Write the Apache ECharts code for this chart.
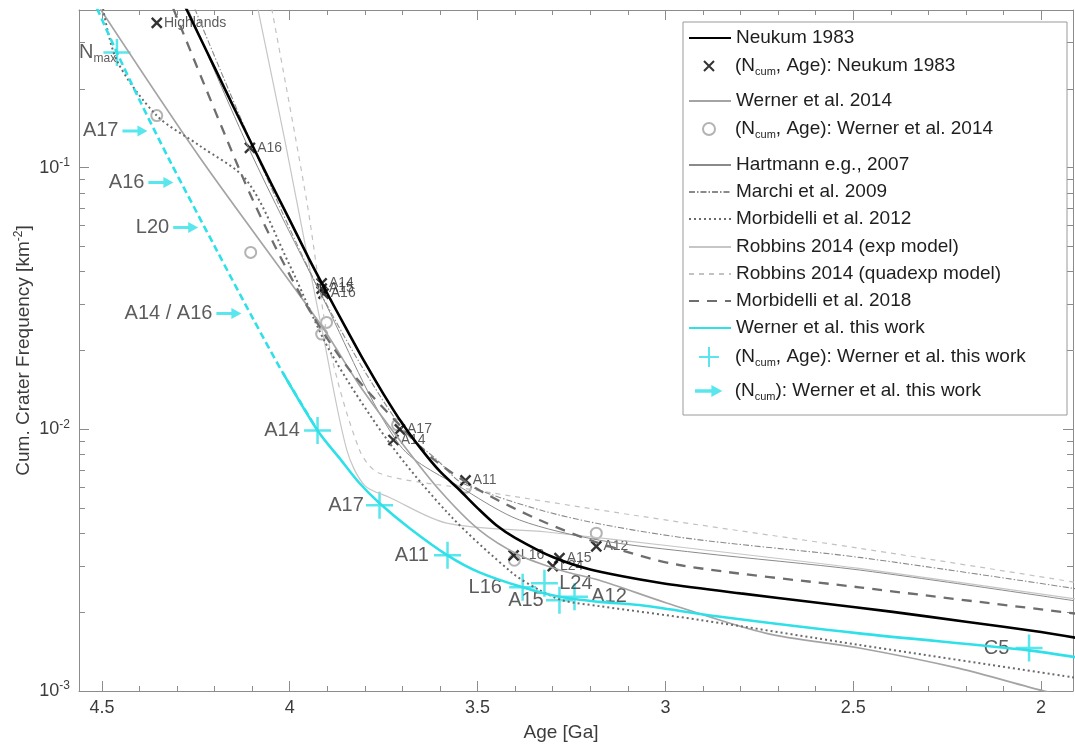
<!DOCTYPE html>
<html>
<head>
<meta charset="utf-8">
<title>Lunar cratering chronologies</title>
<script src="https://cdn.jsdelivr.net/npm/echarts@6/dist/echarts.min.js"></script>
<style>
  html, body { margin: 0; padding: 0; background: #fff; }
  #chart { width: 1075px; height: 747px; }
</style>
</head>
<body>
<div id="chart"></div>
<script>
// values: [age in Ga, cumulative crater frequency N(1) in km^-2]
const neukum1983 = [[4.30,0.479],[4.25,0.339],[4.20,0.241],[4.15,0.171],[4.10,0.122],[4.05,0.0872],[4.00,0.0630],[3.95,0.0452],[3.90,0.0330],[3.85,0.0243],[3.80,0.0180],[3.75,0.0136],[3.70,0.0105],[3.65,0.0084],[3.60,0.0069],[3.55,0.0059],[3.50,0.0050],[3.45,0.0043],[3.40,0.00385],[3.30,0.00325],[3.20,0.00291],[3.10,0.00272],[3.00,0.00257],[2.80,0.00236],[2.60,0.00218],[2.40,0.00201],[2.20,0.00184],[2.00,0.00168],[1.90,0.00159]];
const werner2014 = [[4.505,0.405],[4.239,0.109],[3.920,0.0254],[3.814,0.0147],[3.707,0.00908],[3.601,0.00585],[3.495,0.00412],[3.388,0.0033],[3.282,0.0029],[3.176,0.00265],[2.997,0.00217],[2.731,0.00166],[2.484,0.00146],[2.218,0.00122],[1.992,0.00100],[1.900,0.00094]];
const hartmann2007 = [[4.271,0.405],[4.106,0.116],[3.915,0.0324],[3.707,0.00869],[3.532,0.00585],[3.388,0.0045],[3.176,0.00377],[2.910,0.00337],[2.484,0.0029],[1.900,0.0022]];
const marchi2009 = [[4.253,0.405],[4.093,0.116],[3.907,0.031],[3.707,0.01035],[3.601,0.00748],[3.540,0.00622],[3.282,0.0047],[2.963,0.00387],[2.484,0.00324],[1.900,0.00245]];
const morbidelli2012 = [[4.497,0.405],[4.460,0.256],[4.354,0.158],[4.239,0.121],[4.114,0.0891],[4.000,0.0423],[3.894,0.0200],[3.734,0.00885],[3.574,0.0047],[3.407,0.00282],[3.335,0.00243],[3.274,0.00222],[3.176,0.00211],[2.910,0.00187],[2.484,0.0015],[1.900,0.00112]];
const robbinsExp = [[4.085,0.405],[4.013,0.127],[3.939,0.0361],[3.912,0.0232],[3.848,0.00832],[3.801,0.00611],[3.734,0.00549],[3.582,0.00438],[3.316,0.00405],[2.963,0.00355],[2.484,0.00294],[1.900,0.00224]];
const robbinsQuadexp = [[4.048,0.405],[3.955,0.0748],[3.894,0.0206],[3.814,0.00832],[3.761,0.00679],[3.540,0.00596],[3.069,0.00466],[2.484,0.00351],[1.900,0.00259]];
const morbidelli2018 = [[4.310,0.405],[4.125,0.0917],[4.040,0.0503],[3.947,0.0284],[3.840,0.0168],[3.707,0.01035],[3.620,0.00774],[3.495,0.00585],[3.335,0.0045],[3.176,0.00367],[2.963,0.00303],[2.484,0.00249],[1.900,0.00197]];
// this work: dashed (extrapolated) part and solid part
const thisWorkDashed = [[4.513,0.405],[4.460,0.275],[4.399,0.180],[4.319,0.106],[4.194,0.0482],[4.098,0.0265],[4.019,0.0165],[3.926,0.0099]];
const thisWorkSolid = [[4.019,0.0165],[3.926,0.0099],[3.867,0.00774],[3.814,0.00622],[3.761,0.00522],[3.681,0.00419],[3.580,0.0033],[3.495,0.00284],[3.380,0.00249],[3.282,0.00229],[3.176,0.00219],[3.069,0.00213],[2.864,0.00193],[2.484,0.00166],[2.032,0.00143],[1.900,0.00134]];

// calibration points
const neukumPointNames = ['Highlands','A16','A14','A15','A16','A17','A14','A11','L16','A15','L24','A12'];
const neukumPoints = [[4.354,0.357],[4.106,0.119],[3.915,0.0361],[3.915,0.0345],[3.910,0.0330],[3.707,0.0100],[3.724,0.0091],[3.532,0.00638],[3.404,0.0033],[3.282,0.00322],[3.300,0.0030],[3.184,0.00357]];
const werner2014Points = [[4.354,0.158],[4.104,0.0474],[3.902,0.0256],[3.915,0.0231],[3.713,0.0104],[3.532,0.0060],[3.402,0.00316],[3.184,0.00401]];
const thisWorkNames = ['N_max','A14','A17','A11','L16','L24','A15','A12','C5'];
const thisWorkPoints = [[4.460,0.275],[3.926,0.0099],[3.761,0.00513],[3.580,0.0033],[3.380,0.00249],[3.322,0.00258],[3.282,0.00222],[3.242,0.00229],[2.032,0.00146]];
const arrowNames = ['A17','A16','L20','A14 / A16'];
const arrowPoints = [[4.412,0.138],[4.343,0.0877],[4.277,0.059],[4.162,0.0277]];

// axes
const ageMin = 1.915, ageMax = 4.561;
const freqMin = 0.001, freqMax = 0.4;
const ageMajorTicks = [4.5, 4, 3.5, 3, 2.5, 2];
const ageMinorTicks = [4.4,4.3,4.2,4.1,3.9,3.8,3.7,3.6,3.4,3.3,3.2,3.1,2.9,2.8,2.7,2.6,2.4,2.3,2.2,2.1];
const freqMajorTicks = [0.001, 0.01, 0.1];
const freqMinorTicks = [0.002,0.003,0.004,0.005,0.006,0.007,0.008,0.009,0.02,0.03,0.04,0.05,0.06,0.07,0.08,0.09,0.2,0.3];

// label placement for the calibration labels of this work
const thisWorkLabelPos = {
  N_max: ['left', -14], A14: ['left', 3], A17: ['left', 1], A11: ['left', 4], L16: ['left', 6],
  L24: ['right', 0], A15: ['left', 1], A12: ['right', 2], C5: ['left', 5]
};

const FONT = 'Liberation Sans, Arial, sans-serif';
const axisGrey = '#8c8c8c';
const textGrey = '#3c3c3c';
const cyan = '#2fe0e8';

function ageAxis(position, ticks, len, main) {
  return {
    type: 'value', position: position, inverse: true, min: ageMin, max: ageMax,
    splitLine: { show: false },
    axisLine: { show: main, onZero: false, lineStyle: { color: axisGrey, width: 1 } },
    axisTick: { show: true, inside: true, length: len, customValues: ticks, lineStyle: { color: axisGrey } },
    axisLabel: {
      show: main && position === 'bottom', customValues: ticks, margin: 8,
      fontFamily: FONT, fontSize: 18, color: textGrey,
      formatter: v => String(v)
    }
  };
}

function freqAxis(position, ticks, len, main) {
  return {
    type: 'log', logBase: 10, position: position, min: freqMin, max: freqMax,
    splitLine: { show: false },
    axisLine: { show: main, onZero: false, lineStyle: { color: axisGrey, width: 1 } },
    axisTick: { show: true, inside: true, length: len, customValues: ticks, lineStyle: { color: axisGrey } },
    axisLabel: {
      show: main && position === 'left', customValues: ticks, margin: 9,
      fontFamily: FONT, fontSize: 18, color: textGrey, lineHeight: 22,
      formatter: v => '10{sup|' + Math.round(Math.log10(v)) + '}',
      rich: { sup: { fontFamily: FONT, fontSize: 12, color: textGrey, verticalAlign: 'top', lineHeight: 22 } }
    }
  };
}

const xAxes = [
  ageAxis('bottom', ageMajorTicks, 10, true),
  ageAxis('bottom', ageMinorTicks, 5, false),
  ageAxis('top', ageMajorTicks, 10, true),
  ageAxis('top', ageMinorTicks, 5, false)
];
Object.assign(xAxes[0], {
  name: 'Age [Ga]', nameLocation: 'middle', nameGap: 32, nameMoveOverlap: false,
  nameTextStyle: { fontFamily: FONT, fontSize: 19, color: textGrey, padding: [0, 30, 0, 0] }
});
const yAxes = [
  freqAxis('left', freqMajorTicks, 10, true),
  freqAxis('left', freqMinorTicks, 6, false),
  freqAxis('right', freqMajorTicks, 10, true),
  freqAxis('right', freqMinorTicks, 6, false)
];
Object.assign(yAxes[0], {
  name: 'Cum. Crater Frequency [km{sup|-2}]', nameLocation: 'middle', nameGap: 44, nameRotate: 90,
  nameMoveOverlap: false,
  nameTextStyle: {
    fontFamily: FONT, fontSize: 19, color: textGrey, lineHeight: 22,
    rich: { sup: { fontFamily: FONT, fontSize: 12, color: textGrey, verticalAlign: 'top', lineHeight: 22 } }
  }
});

function curve(name, data, color, width, type) {
  return {
    name: name, type: 'line', data: data, symbol: 'none', showSymbol: false, smooth: 0.3,
    xAxisIndex: 0, yAxisIndex: 0, clip: true,
    itemStyle: { color: color },
    lineStyle: { color: color, width: width, type: type || 'solid' },
    emphasis: { disabled: true }
  };
}

const crossPath = 'path://M0,0L10,10M10,0L0,10';
const plusPath = 'path://M5,0L5,10M0,5L10,5';
const ringPath = 'path://M10,5A5,5,0,1,1,0,5A5,5,0,1,1,10,5Z';
const arrowPath = 'path://M0,4L15,4L15,0L25,5.5L15,11L15,7L0,7Z';

const series = [
  curve('Robbins 2014 (exp model)', robbinsExp, '#c6c6c6', 1.2),
  curve('Robbins 2014 (quadexp model)', robbinsQuadexp, '#c2c2c2', 1.2, [5, 5]),
  curve('Hartmann e.g., 2007', hartmann2007, '#8a8a8a', 1),
  curve('Marchi et al. 2009', marchi2009, '#8a8a8a', 1.1, [6, 2, 1.5, 2]),
  curve('Werner et al. 2014', werner2014, '#a4a4a4', 1.7),
  curve('Morbidelli et al. 2012', morbidelli2012, '#6a6a6a', 2, [2, 3]),
  curve('Morbidelli et al. 2018', morbidelli2018, '#6e6e6e', 2.3, [10, 8]),
  curve('Neukum 1983', neukum1983, '#000000', 2.6),
  curve('Werner et al. this work', thisWorkSolid, cyan, 2.6),
  curve('Werner et al. this work', thisWorkDashed, cyan, 2.6, [7, 4]),
  {
    name: '(Ncum, Age): Werner et al. 2014', type: 'scatter', symbol: ringPath, symbolSize: 11,
    data: werner2014Points,
    itemStyle: { color: 'rgba(0,0,0,0)', borderColor: '#a0a0a0', borderWidth: 2 },
    emphasis: { disabled: true }
  },
  {
    name: '(Ncum, Age): Neukum 1983', type: 'scatter', symbol: crossPath, symbolSize: 10,
    data: neukumPoints.map((p, i) => ({ name: neukumPointNames[i], value: p })),
    itemStyle: { color: 'rgba(0,0,0,0)', borderColor: '#000', borderWidth: 2.4 },
    label: { show: true, position: 'right', distance: 1, formatter: '{b}', fontFamily: FONT, fontSize: 14, color: '#333' },
    emphasis: { disabled: true }
  },
  {
    name: '(Ncum, Age): Werner et al. this work', type: 'scatter', symbol: plusPath, symbolSize: 27,
    data: thisWorkPoints.map((p, i) => {
      const nm = thisWorkNames[i];
      const pos = thisWorkLabelPos[nm];
      return { name: nm, value: p, label: { position: pos[0], distance: pos[1] } };
    }),
    itemStyle: { color: 'rgba(0,0,0,0)', borderColor: cyan, borderWidth: 2.5 },
    label: {
      show: true, fontFamily: FONT, fontSize: 20, color: '#333', lineHeight: 24,
      formatter: p => p.name === 'N_max' ? 'N{sub|max}' : p.name,
      rich: { sub: { fontFamily: FONT, fontSize: 12, color: '#333', verticalAlign: 'bottom', lineHeight: 24 } }
    },
    emphasis: { disabled: true }
  },
  {
    name: '(Ncum): Werner et al. this work', type: 'scatter', symbol: arrowPath, symbolSize: [25, 11],
    data: arrowPoints.map((p, i) => ({ name: arrowNames[i], value: p })),
    itemStyle: { color: cyan },
    label: { show: true, position: 'left', distance: 4, formatter: '{b}', fontFamily: FONT, fontSize: 20, color: '#333' },
    emphasis: { disabled: true }
  }
];

// legend: one row per entry, placed at the row heights of the figure
const legendNames = [
  'Neukum 1983', '(Ncum, Age): Neukum 1983', 'Werner et al. 2014', '(Ncum, Age): Werner et al. 2014',
  'Hartmann e.g., 2007', 'Marchi et al. 2009', 'Morbidelli et al. 2012', 'Robbins 2014 (exp model)',
  'Robbins 2014 (quadexp model)', 'Morbidelli et al. 2018', 'Werner et al. this work',
  '(Ncum, Age): Werner et al. this work', '(Ncum): Werner et al. this work'
];
const legendRowY = [38, 66, 101, 129, 165, 192, 219, 247, 274, 301, 328, 357, 391];
const legendIconH = [14, 10, 14, 12, 14, 14, 14, 14, 14, 14, 14, 20, 12];
const legendIsMarker = [false, true, false, true, false, false, false, false, false, false, false, true, true];
const legendShift = [0, 15, 0, 14, 0, 0, 0, 0, 0, 0, 0, 10, 7];

const legends = legendNames.map((nm, i) => ({
  data: [nm], left: 688 + legendShift[i], top: legendRowY[i] - 11, padding: 0, itemGap: 0,
  itemWidth: 42, itemHeight: legendIconH[i], selectedMode: false, z: 5,
  itemStyle: legendIsMarker[i] ? {} : { opacity: 0 },
  formatter: n => n.replace('Ncum', 'N{sub|cum}'),
  textStyle: {
    fontFamily: FONT, fontSize: 19, color: '#1e1e1e', lineHeight: 22,
    rich: { sub: { fontFamily: FONT, fontSize: 11, color: '#1e1e1e', verticalAlign: 'bottom', lineHeight: 22 } }
  }
}));

const chart = echarts.init(document.getElementById('chart'), null, { renderer: 'canvas' });
chart.setOption({
  animation: false,
  backgroundColor: '#ffffff',
  textStyle: { fontFamily: FONT },
  grid: { left: 79, top: 10, right: 2, bottom: 56, outerBoundsMode: 'none', containLabel: false },
  xAxis: xAxes,
  yAxis: yAxes,
  legend: legends,
  graphic: [{
    type: 'rect', z: 3,
    shape: { x: 683, y: 22, width: 384, height: 393 },
    style: { fill: '#ffffff', stroke: '#9a9a9a', lineWidth: 1 }
  }],
  series: series
});
</script>
</body>
</html>
